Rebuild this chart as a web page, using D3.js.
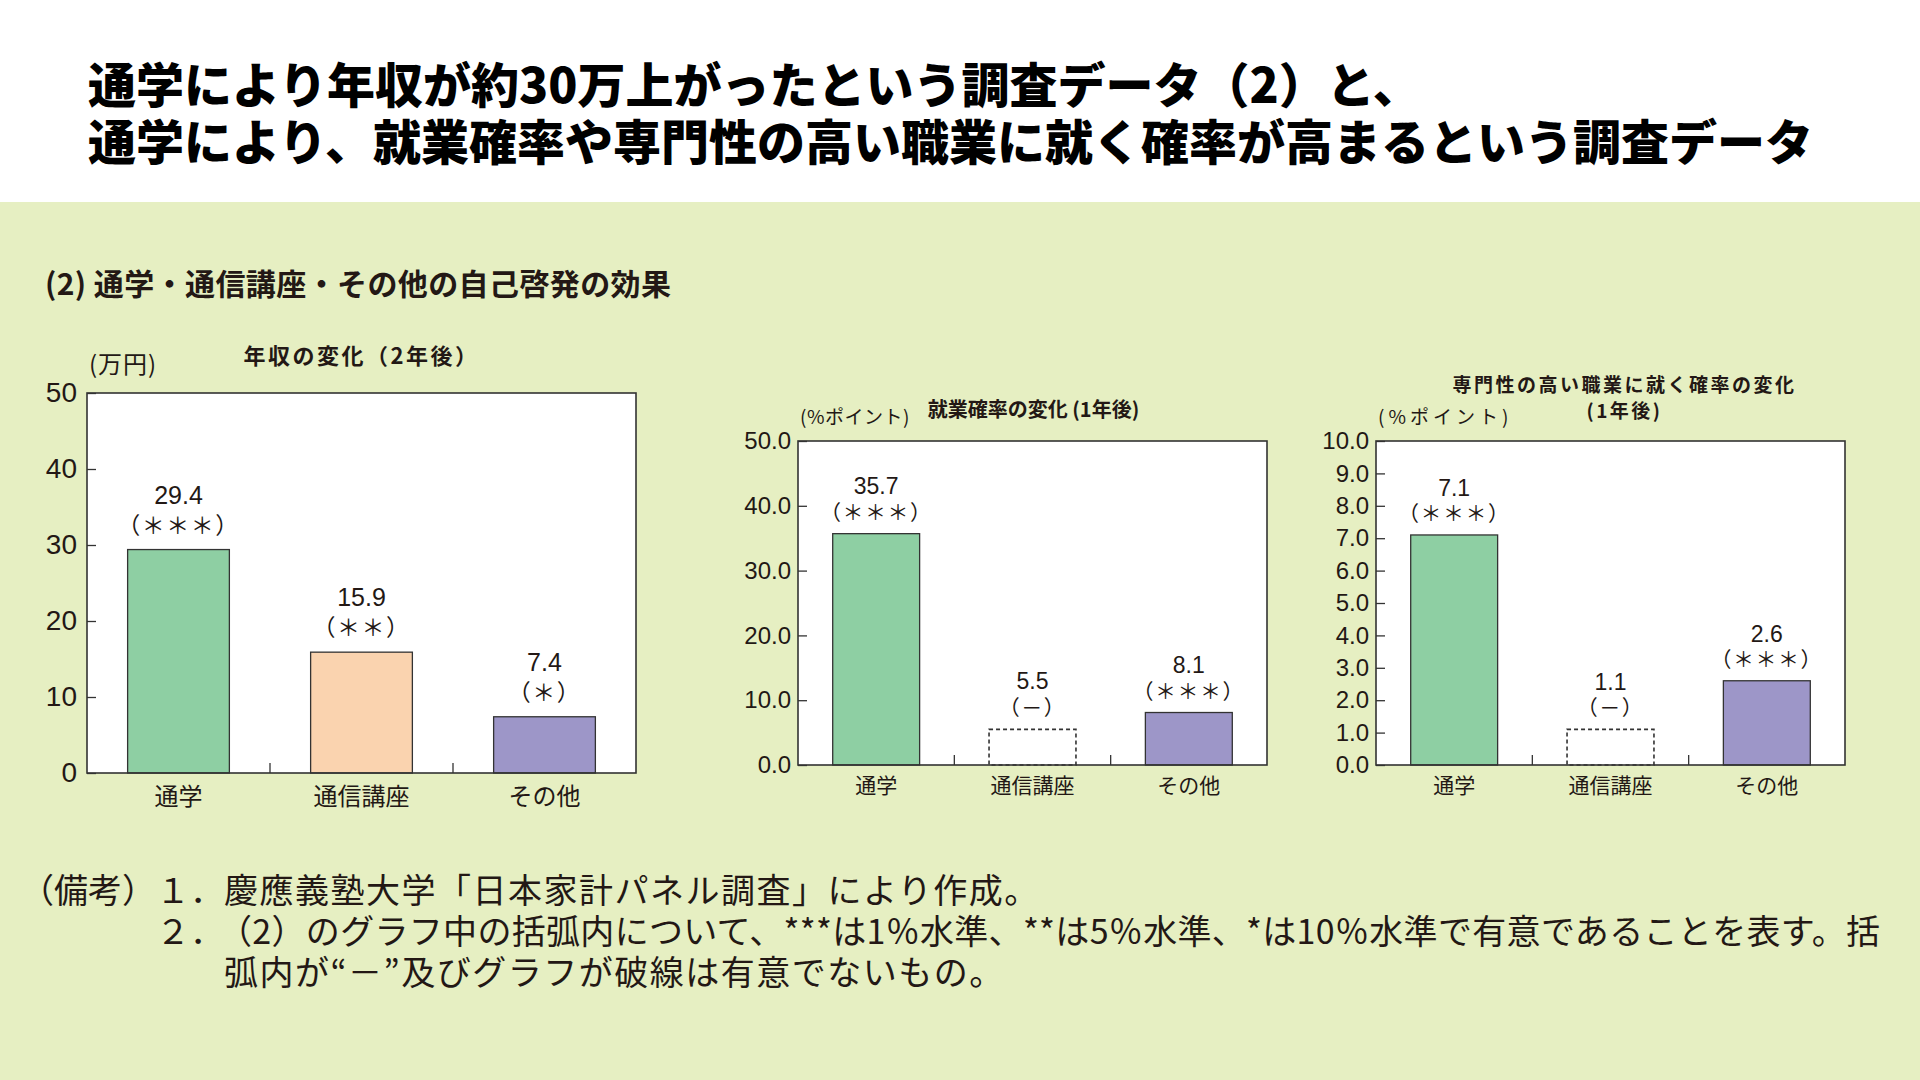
<!DOCTYPE html>
<html>
<head>
<meta charset="utf-8">
<script src="https://cdn.jsdelivr.net/npm/d3@7"></script>
<style>
  html, body { margin: 0; padding: 0; background: #e6efc2; }
  svg { display: block; }
  text { font-family: "Noto Sans CJK JP", "Noto Sans", sans-serif; fill: #231815; }
  .num { font-family: "Liberation Sans", Arial, sans-serif; }
</style>
</head>
<body>
<svg id="page" width="1920" height="1080"></svg>
<script>
// ---- data ----
var categories = ["通学", "通信講座", "その他"]

var incomeValues = [29.4, 15.9, 7.4]
var incomeSig = ["（＊＊＊）", "（＊＊）", "（＊）"]
var incomeTicks = [0, 10, 20, 30, 40, 50]

var employValues = [35.7, 5.5, 8.1]
var employSig = ["（＊＊＊）", "（－）", "（＊＊＊）"]
var employTicks = [0, 10, 20, 30, 40, 50]

var profValues = [7.1, 1.1, 2.6]
var profSig = ["（＊＊＊）", "（－）", "（＊＊＊）"]
var profTicks = [0, 1, 2, 3, 4, 5, 6, 7, 8, 9, 10]

var barColors = ["#8ecfa3", "#fad3af", "#9d96c8"]

var titleLines = [
    "通学により年収が約30万上がったという調査データ（2）と、",
    "通学により、就業確率や専門性の高い職業に就く確率が高まるという調査データ"
]
var subTitle = "(2) 通学・通信講座・その他の自己啓発の効果"

var svg = d3.select("#page")

// header
svg.append("rect").attr("x", 0).attr("y", 0).attr("width", 1920).attr("height", 202).attr("fill", "#ffffff")
svg.selectAll("text.title")
    .data(titleLines)
    .enter()
    .append("text")
        .attr("class", "title")
        .attr("x", 88)
        .attr("y", function(d, i) { return 82 + i * 57 })
        .attr("dominant-baseline", "central")
        .style("font-size", "48px")
        .style("font-weight", 900)
        .style("fill", "#000")
        .text(function(d) { return d })

svg.append("text")
    .attr("x", 45).attr("y", 282)
    .attr("dominant-baseline", "central")
    .style("font-size", "30px")
    .style("font-weight", 700)
    .style("letter-spacing", "0.4px")
    .text(subTitle)

var drawChart = function(cfg) {
    var g = svg.append("g")
    var xScale = d3.scaleBand().domain(categories).range([cfg.left, cfg.right])
    var yScale = d3.scaleLinear().domain([0, cfg.ticks[cfg.ticks.length - 1]]).range([cfg.bottom, cfg.top])
    var barW = xScale.bandwidth() * 0.556

    // plot background
    g.append("rect")
        .attr("x", cfg.left).attr("y", cfg.top)
        .attr("width", cfg.right - cfg.left).attr("height", cfg.bottom - cfg.top)
        .attr("fill", "#fff")

    // bars
    var data = categories.map(function(c, i) {
        return { cat: c, value: cfg.values[i], sig: cfg.sig[i], color: barColors[i] }
    })
    g.selectAll("rect.bar")
        .data(data)
        .enter()
        .append("rect")
            .attr("class", "bar")
            .attr("x", function(d) { return xScale(d.cat) + (xScale.bandwidth() - barW) / 2 })
            .attr("y", function(d) { return yScale(d.value) })
            .attr("width", barW)
            .attr("height", function(d) { return yScale(0) - yScale(d.value) })
            .attr("fill", function(d) { return d.sig == "（－）" ? "#fff" : d.color })
            .attr("stroke", "#333")
            .attr("stroke-width", function(d) { return d.sig == "（－）" ? 1.6 : 1.3 })
            .attr("stroke-dasharray", function(d) { return d.sig == "（－）" ? "4,3" : null })

    // frame + axes (ticks point inward)
    var yAxis = d3.axisLeft(yScale).tickValues(cfg.ticks).tickSize(-9).tickPadding(cfg.tickPad)
        .tickFormat(d3.format(cfg.fmt))
    var ya = g.append("g").attr("transform", "translate(" + cfg.left + ",0)").call(yAxis)
    ya.select(".domain").remove()
    ya.selectAll("line").attr("stroke", "#333").attr("stroke-width", 1.3)
    ya.selectAll("text")
        .attr("class", "num")
        .style("font-size", cfg.tickFont + "px")
        .style("fill", "#231815")

    g.append("rect")
        .attr("x", cfg.left).attr("y", cfg.top)
        .attr("width", cfg.right - cfg.left).attr("height", cfg.bottom - cfg.top)
        .attr("fill", "none").attr("stroke", "#333").attr("stroke-width", 1.6)

    // separators between categories on x axis
    g.selectAll("line.sep")
        .data(categories.slice(1))
        .enter()
        .append("line")
            .attr("x1", function(d) { return xScale(d) })
            .attr("x2", function(d) { return xScale(d) })
            .attr("y1", cfg.bottom).attr("y2", cfg.bottom - 10)
            .attr("stroke", "#333").attr("stroke-width", 1.3)

    // category labels
    g.selectAll("text.cat")
        .data(categories)
        .enter()
        .append("text")
            .attr("x", function(d) { return xScale(d) + xScale.bandwidth() / 2 })
            .attr("y", cfg.bottom + cfg.catGap)
            .attr("text-anchor", "middle")
            .attr("dominant-baseline", "central")
            .style("font-size", cfg.catFont + "px")
            .text(function(d) { return d })

    // value labels
    g.selectAll("text.val")
        .data(data)
        .enter()
        .append("text")
            .attr("class", "num")
            .attr("x", function(d) { return xScale(d.cat) + xScale.bandwidth() / 2 })
            .attr("y", function(d) { return yScale(d.value) - cfg.valGap })
            .attr("text-anchor", "middle")
            .attr("dominant-baseline", "central")
            .style("font-size", cfg.valFont + "px")
            .text(function(d) { return d.value.toFixed(1) })

    g.selectAll("text.sig")
        .data(data)
        .enter()
        .append("text")
            .attr("x", function(d) { return xScale(d.cat) + xScale.bandwidth() / 2 })
            .attr("y", function(d) { return yScale(d.value) - cfg.sigGap })
            .attr("text-anchor", "middle")
            .attr("dominant-baseline", "central")
            .style("font-size", cfg.sigFont + "px")
            .style("letter-spacing", "1.5px")
            .text(function(d) { return d.sig })

    // unit
    g.append("text")
        .attr("x", cfg.left + 2).attr("y", cfg.unitY)
        .attr("dominant-baseline", "central")
        .style("font-size", cfg.unitFont + "px")
        .style("letter-spacing", cfg.unitSpacing + "px")
        .text(cfg.unit)

    // chart title
    g.selectAll("text.ctitle")
        .data(cfg.title)
        .enter()
        .append("text")
            .attr("x", (cfg.left + cfg.right) / 2 + cfg.titleShift)
            .attr("y", function(d, i) { return cfg.titleY + i * 26 })
            .attr("text-anchor", "middle")
            .attr("dominant-baseline", "central")
            .style("font-size", cfg.titleFont + "px")
            .style("font-weight", 700)
            .style("letter-spacing", cfg.titleSpacing + "px")
            .text(function(d) { return d })
}

drawChart({
    left: 87, right: 636, top: 393, bottom: 773,
    values: incomeValues, sig: incomeSig, ticks: incomeTicks, fmt: "d",
    tickFont: 28, tickPad: 10, catFont: 24, catGap: 21, valFont: 25, valGap: 55, sigFont: 23, sigGap: 26,
    unit: "(万円)", unitY: 362, unitFont: 24, unitSpacing: 1,
    title: ["年収の変化（2年後）"], titleY: 354, titleFont: 22, titleSpacing: 2.5, titleShift: 0
})

drawChart({
    left: 798, right: 1267, top: 441, bottom: 765,
    values: employValues, sig: employSig, ticks: employTicks, fmt: ".1f",
    tickFont: 24, tickPad: 7, catFont: 21, catGap: 19, valFont: 23, valGap: 48, sigFont: 21, sigGap: 23,
    unit: "(%ポイント)", unitY: 415, unitFont: 19, unitSpacing: 0.5,
    title: ["就業確率の変化 (1年後)"], titleY: 408, titleFont: 20, titleSpacing: 0, titleShift: 1
})

drawChart({
    left: 1376, right: 1845, top: 441, bottom: 765,
    values: profValues, sig: profSig, ticks: profTicks, fmt: ".1f",
    tickFont: 24, tickPad: 7, catFont: 21, catGap: 19, valFont: 23, valGap: 47, sigFont: 21, sigGap: 23,
    unit: "(%ポイント)", unitY: 415, unitFont: 19, unitSpacing: 4,
    title: ["専門性の高い職業に就く確率の変化", "(1年後)"], titleY: 383, titleFont: 19, titleSpacing: 2.5, titleShift: 14
})

// notes
var noteLabel = "（備考）"
var noteNums = ["１．", "２．"]
var noteLines = [
    "慶應義塾大学「日本家計パネル調査」により作成。",
    "（2）のグラフ中の括弧内について、***は1％水準、**は5％水準、*は10％水準で有意であることを表す。括",
    "弧内が“－”及びグラフが破線は有意でないもの。"
]
var notes = svg.append("g").style("font-size", "34px")
notes.append("text").attr("x", 20).attr("y", 888).attr("dominant-baseline", "central").text(noteLabel)
notes.selectAll("text.nnum")
    .data(noteNums)
    .enter()
    .append("text")
        .attr("x", 156)
        .attr("y", function(d, i) { return 888 + i * 41 })
        .attr("dominant-baseline", "central")
        .text(function(d) { return d })
notes.selectAll("text.nline")
    .data(noteLines)
    .enter()
    .append("text")
        .attr("x", function(d, i) { return i == 1 ? 218 : 224 })
        .attr("y", function(d, i) { return 888 + i * 41 })
        .attr("dominant-baseline", "central")
        .attr("textLength", function(d, i) { return i == 1 ? 1662 : null })
        .attr("lengthAdjust", "spacing")
        .style("letter-spacing", function(d, i) { return i == 1 ? null : "1.5px" })
        .text(function(d) { return d })
</script>
</body>
</html>
